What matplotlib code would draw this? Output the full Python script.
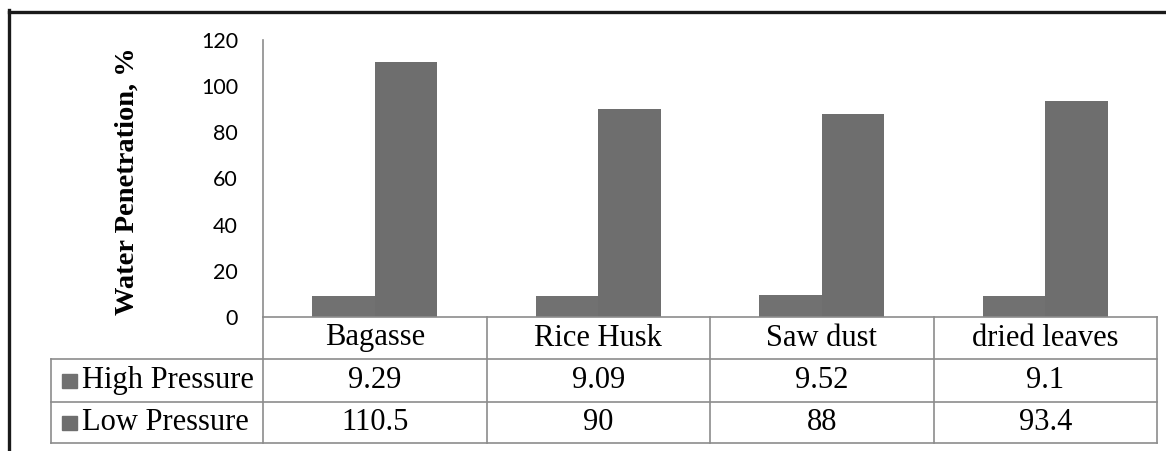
import matplotlib.pyplot as plt
import matplotlib.patches as mpatches
import numpy as np

categories = ["Bagasse", "Rice Husk", "Saw dust", "dried leaves"]
series_names = ["High Pressure", "Low Pressure"]
high_pressure = [9.29, 9.09, 9.52, 9.1]
low_pressure = [110.5, 90, 88, 93.4]
high_labels = ["9.29", "9.09", "9.52", "9.1"]
low_labels = ["110.5", "90", "88", "93.4"]
yticks = [0, 20, 40, 60, 80, 100, 120]

bar_colors = ["#717171", "#6e6e6e"]
grid_col = "#8c8c8c"
W, H = 1166, 451

fig = plt.figure(figsize=(W / 100, H / 100), dpi=100)
ax = fig.add_axes([263 / W, (H - 317) / H, 894 / W, 277 / H])

x = np.arange(len(categories))
bw = 0.28
ax.bar(x - bw / 2, high_pressure, bw, color=bar_colors[0])
ax.bar(x + bw / 2, low_pressure, bw, color=bar_colors[1])

ax.set_xlim(-0.5, len(categories) - 0.5)
ax.set_ylim(0, 120)
ax.set_yticks(yticks)
ax.set_yticklabels([str(t) for t in yticks], fontfamily="Lato", fontsize=15.5)
ax.tick_params(axis="y", length=0, pad=18)
ax.set_xticks([])
for s in ["top", "right", "bottom"]:
    ax.spines[s].set_visible(False)
ax.spines["left"].set_color(grid_col)
ax.spines["left"].set_linewidth(1.2)

ax.set_ylabel("Water Penetration, %", fontfamily="Liberation Serif",
              fontweight="bold", fontsize=20.5)
ax.yaxis.set_label_coords(-0.138, 0.49)

# data table below the plot
tr = ax.transAxes
px = lambda p: (317 - p) / 277.0
row_edges = [px(317), px(359), px(402), px(443)]
col_edges = [i / len(categories) for i in range(len(categories) + 1)]
lab_left = (51 - 263) / 894.0
lk = dict(color=grid_col, lw=1.2, transform=tr, clip_on=False)

# horizontal lines
ax.plot([0, 1], [row_edges[0]] * 2, **lk)
for r in row_edges[1:]:
    ax.plot([lab_left, 1], [r, r], **lk)
# vertical lines
for c in col_edges:
    ax.plot([c, c], [row_edges[0], row_edges[3]], **lk)
ax.plot([lab_left, lab_left], [row_edges[1], row_edges[3]], **lk)

tk = dict(fontfamily="Liberation Serif", fontsize=22, transform=tr,
          ha="center", va="center", clip_on=False)
for i, cat in enumerate(categories):
    cx = (col_edges[i] + col_edges[i + 1]) / 2
    ax.text(cx, (row_edges[0] + row_edges[1]) / 2, cat, **tk)
    ax.text(cx, (row_edges[1] + row_edges[2]) / 2, high_labels[i], **tk)
    ax.text(cx, (row_edges[2] + row_edges[3]) / 2, low_labels[i], **tk)

for k, name in enumerate(series_names):
    cy = (row_edges[k + 1] + row_edges[k + 2]) / 2
    sq = mpatches.Rectangle(((62 - 263) / 894.0, cy - 7 / 277.0), 15 / 894.0, 14 / 277.0,
                            transform=tr, color=bar_colors[k], clip_on=False)
    ax.add_patch(sq)
    ax.text((82 - 263) / 894.0, cy, name, fontfamily="Liberation Serif", fontsize=22,
            transform=tr, ha="left", va="center", clip_on=False)

# outer frame (top and left)
fig.add_artist(plt.Line2D([9 / W, 1], [1 - 11.5 / H] * 2, color="#1a1a1a", lw=2.4,
                          transform=fig.transFigure))
fig.add_artist(plt.Line2D([9 / W, 9 / W], [0, 1 - 11.5 / H + 0.003], color="#1a1a1a", lw=2.4,
                          transform=fig.transFigure))

fig.savefig("out.png", dpi=100)
